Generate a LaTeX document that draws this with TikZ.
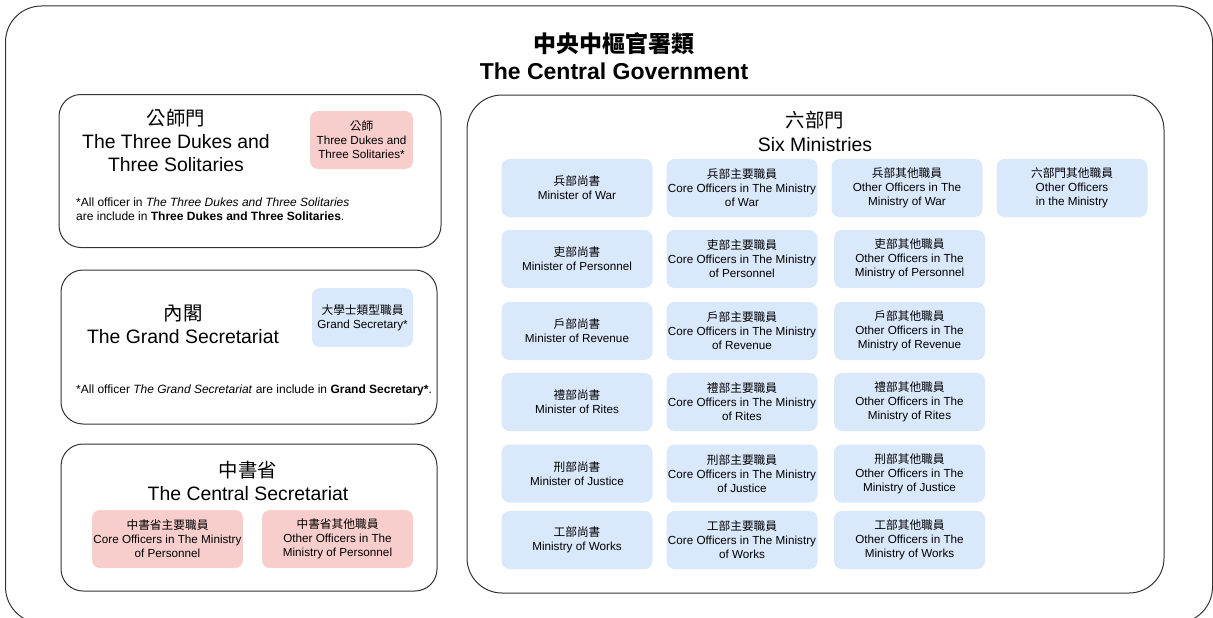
\documentclass[tikz,border=0pt]{standalone}
\usepackage{fontspec}
\setmainfont{Liberation Sans}
\newfontfamily\zh{Noto Sans CJK TC}
\usepackage{tikz}

\definecolor{cellblue}{HTML}{DAE8FC}
\definecolor{cellpink}{HTML}{F8CECC}

\begin{document}
\begin{tikzpicture}[x=1pt, y=-1pt,
	group/.style={draw=black!80, line width=1pt, rounded corners=22pt, inner sep=0pt, outer sep=0pt},
	cell/.style={rounded corners=8pt, inner sep=0pt, minimum width=151pt, minimum height=58pt, align=center, font=\fontsize{11.7}{14}\selectfont},
	blue cell/.style={cell, fill=cellblue},
	pink cell/.style={cell, fill=cellpink},
	heading/.style={align=center, inner sep=0pt, font=\fontsize{19.4}{23}\selectfont},
	note/.style={align=left, anchor=west, inner sep=0pt, font=\fontsize{12}{14.5}\selectfont},]
\useasboundingbox (0,0) rectangle (1213,618);

% outer frame and title
\node[group, rounded corners=36pt, minimum width=1207pt, minimum height=617pt] (central) at (609,314.5) {};
\node[align=center, inner sep=0pt, font=\fontsize{23}{27}\selectfont\bfseries] (central title) at (614,56.5) {{\zh 中央中樞官署類}\\The Central Government};

% three dukes
\node[group, minimum width=382pt, minimum height=153pt] (dukes) at (250,171) {};
\node[heading] (dukes title) at (176,140.5) {{\zh 公師門}\\The Three Dukes and\\Three Solitaries};
\node[pink cell, minimum width=103pt] (dukes cell) at (361.5,140) {{\zh 公師}\\Three Dukes and\\Three Solitaries*};
\node[note] (dukes note) at (76,209) {*All officer in \textit{The Three Dukes and Three Solitaries}\\are include in \textbf{Three Dukes and Three Solitaries}.};

% grand secretariat
\node[group, minimum width=376pt, minimum height=154pt] (grand) at (249,347) {};
\node[heading] (grand title) at (183,324.5) {{\zh 內閣}\\The Grand Secretariat};
\node[blue cell, minimum width=101pt, minimum height=59pt] (grand cell) at (362.5,317.5) {{\zh 大學士類型職員}\\Grand Secretary*};
\node[note] (grand note) at (76,390) {*All officer \textit{The Grand Secretariat} are include in \textbf{Grand Secretary*}.};

% central secretariat
\node[group, minimum width=376pt, minimum height=147pt] (secr) at (249,517.5) {};
\node[heading] (secr title) at (248,480.5) {{\zh 中書省}\\The Central Secretariat};
\node[pink cell] (secr core) at (167.5,539) {{\zh 中書省主要職員}\\Core Officers in The Ministry\\of Personnel};
\node[pink cell] (secr other) at (337.5,539) {{\zh 中書省其他職員}\\Other Officers in The\\Ministry of Personnel};

% six ministries
\node[group, rounded corners=35pt, minimum width=697pt, minimum height=498pt] (six) at (815.5,344) {};
\node[heading, font=\fontsize{19.4}{24}\selectfont] (six title) at (815,131) {{\zh 六部門}\\Six Ministries};

\node[blue cell] (war head) at (577,188) {{\zh 兵部尚書}\\Minister of War};
\node[blue cell] (war core) at (742,188) {{\zh 兵部主要職員}\\Core Officers in The Ministry\\of War};
\node[blue cell] (war other) at (907,188) {{\zh 兵部其他職員}\\Other Officers in The\\Ministry of War};
\node[blue cell] (six other) at (1072,188) {{\zh 六部門其他職員}\\Other Officers\\in the Ministry};

\node[blue cell] (pers head) at (577,259) {{\zh 吏部尚書}\\Minister of Personnel};
\node[blue cell] (pers core) at (742,259) {{\zh 吏部主要職員}\\Core Officers in The Ministry\\of Personnel};
\node[blue cell] (pers other) at (909.5,259) {{\zh 吏部其他職員}\\Other Officers in The\\Ministry of Personnel};

\node[blue cell] (rev head) at (577,331) {{\zh 戶部尚書}\\Minister of Revenue};
\node[blue cell] (rev core) at (742,331) {{\zh 戶部主要職員}\\Core Officers in The Ministry\\of Revenue};
\node[blue cell] (rev other) at (909.5,331) {{\zh 戶部其他職員}\\Other Officers in The\\Ministry of Revenue};

\node[blue cell] (rites head) at (577,402) {{\zh 禮部尚書}\\Minister of Rites};
\node[blue cell] (rites core) at (742,402) {{\zh 禮部主要職員}\\Core Officers in The Ministry\\of Rites};
\node[blue cell] (rites other) at (909.5,402) {{\zh 禮部其他職員}\\Other Officers in The\\Ministry of Rites};

\node[blue cell] (just head) at (577,473.5) {{\zh 刑部尚書}\\Minister of Justice};
\node[blue cell] (just core) at (742,473.5) {{\zh 刑部主要職員}\\Core Officers in The Ministry\\of Justice};
\node[blue cell] (just other) at (909.5,473.5) {{\zh 刑部其他職員}\\Other Officers in The\\Ministry of Justice};

\node[blue cell] (works head) at (577,540) {{\zh 工部尚書}\\Ministry of Works};
\node[blue cell] (works core) at (742,540) {{\zh 工部主要職員}\\Core Officers in The Ministry\\of Works};
\node[blue cell] (works other) at (909.5,540) {{\zh 工部其他職員}\\Other Officers in The\\Ministry of Works};
\end{tikzpicture}
\end{document}
